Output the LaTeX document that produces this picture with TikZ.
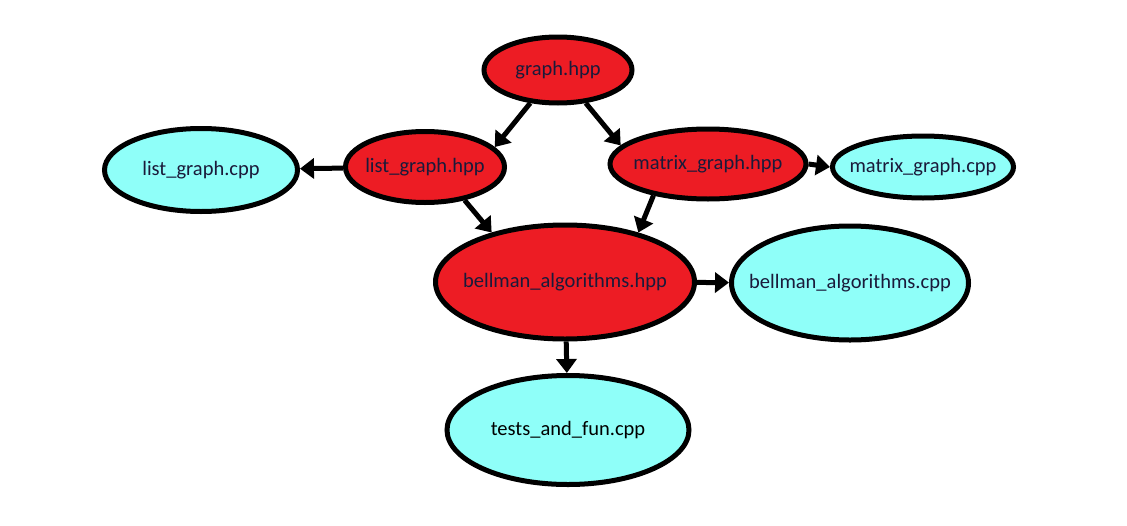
\documentclass[tikz,border=0pt]{standalone}
\usepackage{fontspec}
\setmainfont{Carlito}
\usetikzlibrary{shapes.geometric,arrows.meta}
\definecolor{hppred}{HTML}{ED1C24}
\definecolor{cppcyan}{HTML}{8FFFF9}
\definecolor{labelink}{HTML}{1A1A3A}
\newcommand{\fname}[1]{\makebox[0pt]{#1}}

\begin{document}
\begin{tikzpicture}[x = 1pt, y = -1pt,
    file/.style = {ellipse, draw = black, line width = 5pt, inner sep = 0pt, text = labelink, font = \fontsize{20.5}{23}\selectfont},
    hpp/.style = {file, fill = hppred},
    cpp/.style = {file, fill = cppcyan},
    dep/.style = {line width = 5pt, -{Triangle[length = 14pt, width = 20pt]}}]
    \useasboundingbox (0,0) rectangle (1127,525);
    \node[hpp, minimum width = 148pt, minimum height = 66pt] (graph) at (558,70) {\fname{graph.hpp}};
    \node[hpp, minimum width = 159pt, minimum height = 71pt] (lghpp) at (425,167) {\fname{list\_graph.hpp}};
    \node[cpp, minimum width = 193pt, minimum height = 83pt] (lgcpp) at (201,170) {\fname{list\_graph.cpp}};
    \node[hpp, minimum width = 196pt, minimum height = 70pt] (mghpp) at (708,164) {\fname{matrix\_graph.hpp}};
    \node[cpp, minimum width = 181pt, minimum height = 62pt] (mgcpp) at (923,167) {\fname{matrix\_graph.cpp}};
    \node[hpp, minimum width = 259pt, minimum height = 114pt] (bhpp) at (565,282) {\fname{bellman\_algorithms.hpp}};
    \node[cpp, minimum width = 237pt, minimum height = 114pt] (bcpp) at (850,283) {\fname{bellman\_algorithms.cpp}};
    \node[cpp, minimum width = 242pt, minimum height = 109pt, text = black] (tests) at (568,430) {\fname{tests\_and\_fun.cpp}};
    \draw[dep] (graph.230) -- (lghpp.16);
    \draw[dep] (graph.310) -- (mghpp.168);
    \draw[dep] (lghpp) -- (lgcpp);
    \draw[dep] (mghpp.east) -- (mgcpp.west);
    \draw[dep] (lghpp.320) -- (bhpp.146);
    \draw[dep] (mghpp.210) -- (bhpp.34);
    \draw[dep] (bhpp) -- (bcpp);
    \draw[dep] (bhpp) -- (tests);
\end{tikzpicture}
\end{document}
